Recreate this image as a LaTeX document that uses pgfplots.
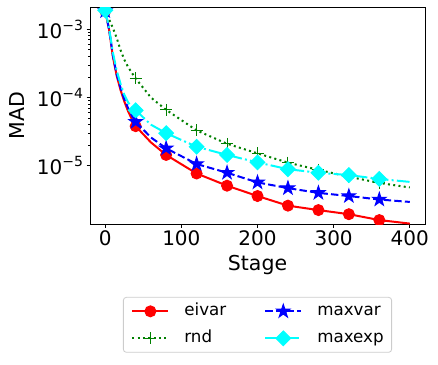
\documentclass[border=0pt]{standalone}
\usepackage{fontspec}
\setmainfont{DejaVu Sans}
\usepackage{pgfplots}
\usepackage{pgfplotstable}
\pgfplotsset{compat=1.18}

% filled five-point star, like matplotlib's '*'
\pgfdeclareplotmark{fstar}{%
  \pgfpathmoveto{\pgfpointpolar{90}{\pgfplotmarksize}}%
  \pgfpathlineto{\pgfpointpolar{126}{0.382\pgfplotmarksize}}%
  \pgfpathlineto{\pgfpointpolar{162}{\pgfplotmarksize}}%
  \pgfpathlineto{\pgfpointpolar{198}{0.382\pgfplotmarksize}}%
  \pgfpathlineto{\pgfpointpolar{234}{\pgfplotmarksize}}%
  \pgfpathlineto{\pgfpointpolar{270}{0.382\pgfplotmarksize}}%
  \pgfpathlineto{\pgfpointpolar{306}{\pgfplotmarksize}}%
  \pgfpathlineto{\pgfpointpolar{342}{0.382\pgfplotmarksize}}%
  \pgfpathlineto{\pgfpointpolar{18}{\pgfplotmarksize}}%
  \pgfpathlineto{\pgfpointpolar{54}{0.382\pgfplotmarksize}}%
  \pgfpathclose\pgfusepathqfillstroke}

\definecolor{mplgreen}{RGB}{0,128,0}
\definecolor{mplcyan}{RGB}{0,255,255}
\definecolor{mplblue}{RGB}{0,0,255}
\definecolor{mplred}{RGB}{255,0,0}
\newcommand{\decade}[1]{10\raisebox{8.3bp}{\fontsize{14bp}{16bp}\selectfont −#1}}

\pgfplotstableread{
stage eivar    rnd      maxvar   maxexp
0     1.85e-3  1.9e-3   1.85e-3  1.9e-3
5     1.0e-3   1.4e-3   1.0e-3   1.05e-3
10    4.0e-4   1.05e-3  4.2e-4   4.6e-4
15    2.1e-4   7.5e-4   2.2e-4   2.5e-4
20    1.3e-4   5.0e-4   1.4e-4   1.6e-4
25    8.8e-5   3.6e-4   9.5e-5   1.1e-4
30    6.3e-5   2.8e-4   7.0e-5   8.5e-5
35    4.8e-5   2.3e-4   5.4e-5   7.2e-5
40    3.8e-5   1.9e-4   4.4e-5   6.5e-5
60    2.2e-5   1.0e-4   2.6e-5   4.0e-5
80    1.44e-5  6.6e-5   1.8e-5   3.0e-5
120   7.7e-6   3.3e-5   1.06e-5  1.9e-5
160   5.1e-6   2.1e-5   7.9e-6   1.44e-5
200   3.6e-6   1.52e-5  5.7e-6   1.12e-5
240   2.6e-6   1.11e-5  4.7e-6   8.9e-6
280   2.24e-6  8.7e-6   4.0e-6   7.9e-6
320   1.95e-6  6.9e-6   3.6e-6   7.3e-6
360   1.6e-6   5.6e-6   3.2e-6   6.4e-6
400   1.42e-6  4.8e-6   2.95e-6  5.8e-6
}\data

\begin{document}
\begin{tikzpicture}
\begin{axis}[
  scale only axis, width=335bp, height=217bp,
  ymode=log, xmin=-20, xmax=420, ymin=1.40e-6, ymax=2.12e-3,
  xtick={0,100,200,300,400}, xticklabels={0,100,200,300,400},
  ytick={1e-5,1e-4,1e-3}, yticklabels={\decade{5},\decade{4},\decade{3}},
  tick pos=left, tick align=outside,
  major tick length=3.5bp, minor tick length=2bp,
  every tick/.style={black, line width=0.8bp},
  axis line style={black, line width=0.8bp},
  ticklabel style={font=\fontsize{20bp}{24bp}\selectfont},
  xlabel=Stage, ylabel=MAD,
  label style={font=\fontsize{20.5bp}{24bp}\selectfont},
  xlabel style={at={(axis description cs:0.5,-0.189)}, anchor=center},
  ylabel style={at={(axis description cs:-0.218,0.5)}, anchor=center},
  clip marker paths=true,
  legend columns=2, transpose legend,
  legend cell align=left,
  legend style={at={(0.5,-0.336)}, anchor=north, draw=black!20, line width=0.8bp,
    rounded corners=3bp, font=\fontsize{16.7bp}{20bp}\selectfont,
    inner xsep=8bp, inner ysep=6bp, row sep=11bp,
    nodes={inner sep=0bp, text height=12bp, text depth=4bp},
    /tikz/every odd column/.append style={column sep=15bp},
    /tikz/every even column/.append style={column sep=38bp}},
  legend image code/.code={\draw[#1, mark indices={2}] plot coordinates {(0bp,0bp) (18bp,0bp) (36bp,0bp)};},
]
\addplot[mplred, line width=2bp, mark=*, mark size=5.5bp,
  mark options={solid, line width=1bp},
  mark indices={1,9,11,12,13,14,15,16,17,18}]
  table[x=stage, y=eivar] {\data};
\addlegendentry{eivar}
\addplot[mplgreen, line width=2bp, dash pattern=on 2bp off 3.3bp, mark=+, mark size=6bp,
  mark options={solid, line width=1bp},
  mark indices={1,9,11,12,13,14,15,16,17,18}]
  table[x=stage, y=rnd] {\data};
\addlegendentry{rnd}
\addplot[mplblue, line width=2bp, dash pattern=on 7.4bp off 3.2bp, mark=fstar, mark size=7bp,
  mark options={solid, line width=1bp},
  mark indices={1,9,11,12,13,14,15,16,17,18}]
  table[x=stage, y=maxvar] {\data};
\addlegendentry{maxvar}
\addplot[mplcyan, line width=2bp, dash pattern=on 12.8bp off 3.2bp on 2bp off 3.2bp,
  mark=square*, mark size=5.2bp,
  mark options={solid, line width=1bp, rotate=45},
  mark indices={1,9,11,12,13,14,15,16,17,18}]
  table[x=stage, y=maxexp] {\data};
\addlegendentry{maxexp}
\end{axis}
\pgfresetboundingbox
\path ([shift={(-90bp,-140bp)}]current axis.south west) rectangle ([shift={(13bp,7bp)}]current axis.north east);
\end{tikzpicture}
\end{document}
